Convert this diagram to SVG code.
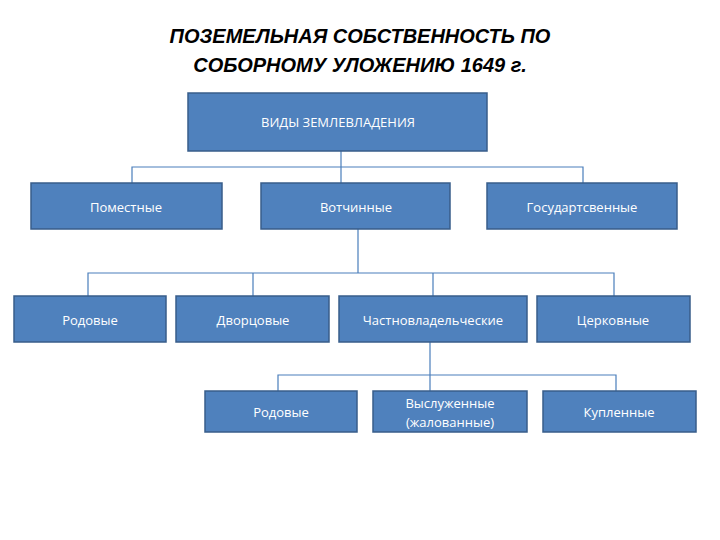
<svg xmlns="http://www.w3.org/2000/svg" width="720" height="540" viewBox="0 0 720 540">
<style>
.b{fill:#4F81BD;stroke:#385D8A;stroke-width:1.5}
.t{fill:#fff;font-family:"Open Sans","DejaVu Sans",sans-serif;font-size:13px;text-anchor:middle}
.c{fill:none;stroke:#4A7EBB;stroke-width:1.2}
.h{font-family:"Liberation Sans",Arial,sans-serif;font-size:20px;font-weight:bold;font-style:italic;text-anchor:middle;fill:#000}
</style>
<rect width="720" height="540" fill="#fff"/>
<text class="h" x="360" y="43">ПОЗЕМЕЛЬНАЯ СОБСТВЕННОСТЬ ПО</text>
<text class="h" x="360" y="72">СОБОРНОМУ УЛОЖЕНИЮ 1649 г.</text>
<g id="connectors">
<path class="c" d="M341 151V183M132 183V167H583V183"/>
<path class="c" d="M358 229V273M88 296V273H614V296M253 273V296M433 273V296"/>
<path class="c" d="M430 342V391M278 391V375H616V391"/>
</g>
<g id="n0"><rect class="b" x="188" y="93" width="299" height="58"/><text class="t" x="338" y="127">ВИДЫ ЗЕМЛЕВЛАДЕНИЯ</text></g>
<g id="n1"><rect class="b" x="31" y="183" width="191" height="46"/><text class="t" x="126" y="212">Поместные</text></g>
<g id="n2"><rect class="b" x="261" y="183" width="189" height="46"/><text class="t" x="356" y="212">Вотчинные</text></g>
<g id="n3"><rect class="b" x="487" y="183" width="190" height="46"/><text class="t" x="582" y="212">Государтсвенные</text></g>
<g id="n4"><rect class="b" x="14" y="296" width="152" height="46"/><text class="t" x="90" y="325">Родовые</text></g>
<g id="n5"><rect class="b" x="176" y="296" width="153" height="46"/><text class="t" x="253" y="325">Дворцовые</text></g>
<g id="n6"><rect class="b" x="339" y="296" width="188" height="46"/><text class="t" x="433" y="325">Частновладельческие</text></g>
<g id="n7"><rect class="b" x="537" y="296" width="153" height="46"/><text class="t" x="613" y="325">Церковные</text></g>
<g id="n8"><rect class="b" x="205" y="391" width="152" height="41"/><text class="t" x="281" y="417">Родовые</text></g>
<g id="n9"><rect class="b" x="373" y="391" width="154" height="41"/><text class="t" x="450" y="408">Выслуженные</text><text class="t" x="450" y="427">(жалованные)</text></g>
<g id="n10"><rect class="b" x="543" y="391" width="153" height="41"/><text class="t" x="619" y="417">Купленные</text></g>
</svg>
